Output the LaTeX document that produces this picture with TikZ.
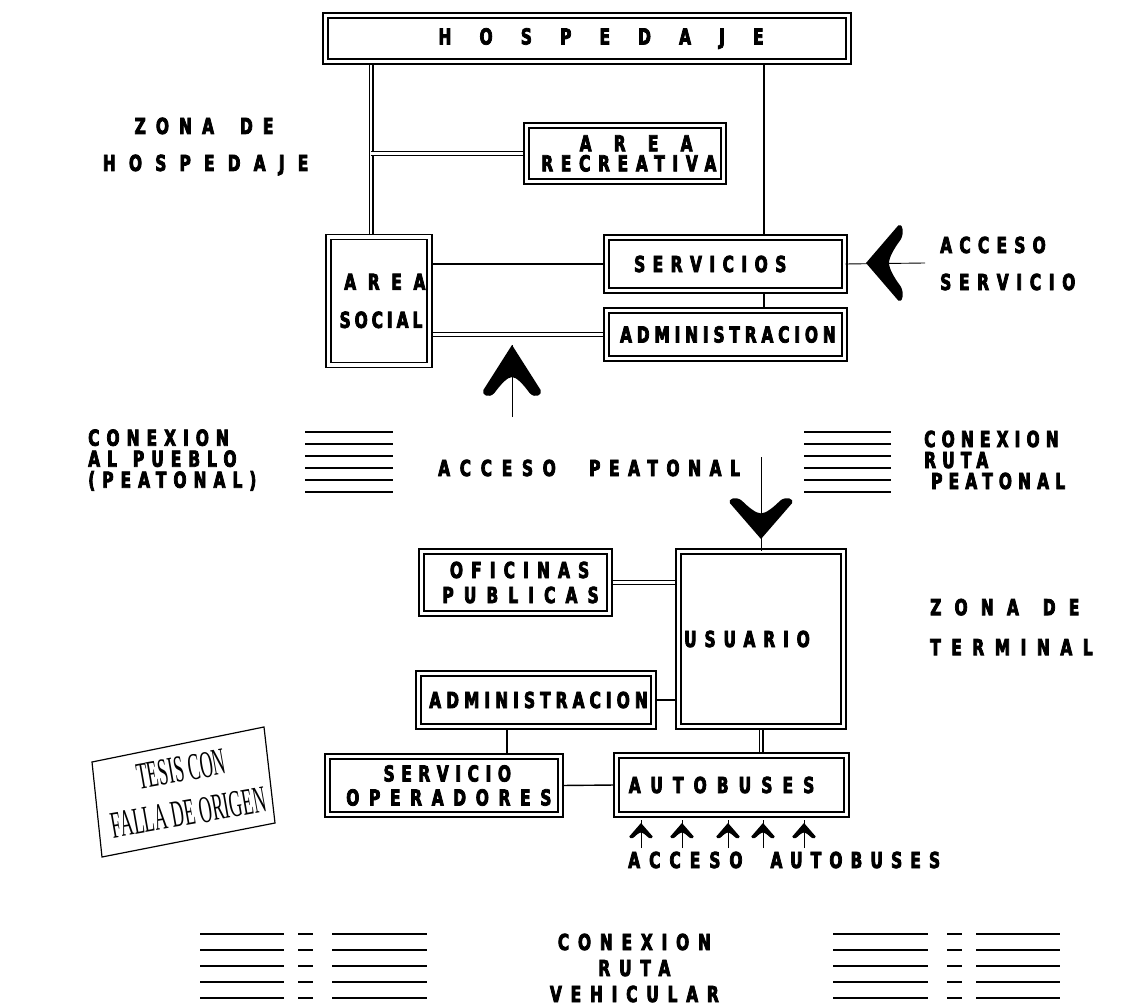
\documentclass[tikz,border=0pt]{standalone}
\usepackage{fontspec}
\newfontfamily\plano{DejaVu Sans Bold}[FakeStretch=0.7,FakeBold=3.5]
\newfontfamily\sello{Liberation Serif}
\usetikzlibrary{calc,backgrounds}
\newcommand\ls[2]{{\addfontfeature{LetterSpace=#1}#2\kern-\dimexpr#1em/100\relax}}

\begin{document}
\begin{tikzpicture}[
  x=1pt, y=-1pt,
  caja/.style={
    draw, double, double distance=3.6pt, line width=1.5pt,
    fill=white, inner sep=0pt, align=center,
    font=\plano\fontsize{22}{#1}\selectfont
  },
  caja/.default=24,
  rotulo/.style={
    inner sep=0pt, align=center,
    font=\plano\fontsize{22}{#1}\selectfont
  },
  rotulo/.default=24,
  sellotxt/.style={
    inner sep=0pt, align=center, font=\sello\fontsize{38}{44}\selectfont,
    rotate=10, xscale=0.47
  },
  enlace/.style={line width=1.4pt},
  enlaced/.style={double, double distance=2.6pt, line width=1.2pt},
  raya/.style={line width=1.4pt},
  flecha/.style={line width=0.9pt},
  wing/.pic={
    \fill (0,0) -- (-26,45) .. controls (-28,50) and (-21,54) .. (-16,48)
      .. controls (-10,39) and (-4,32) .. (0,32)
      .. controls (4,32) and (10,39) .. (16,48)
      .. controls (21,54) and (28,50) .. (26,45) -- cycle;
  }
]
\useasboundingbox (0,0) rectangle (1122,1008);

% Zona de hospedaje
\node[caja, minimum width=523, minimum height=46] (hosp) at (587,38.5) {\ls{128}{HOSPEDAJE}};
\node[caja=20, minimum width=197, minimum height=56] (recre) at (625,153.5) {\ls{101}{AREA}\\\ls{35}{RECREATIVA}};
\node[caja=38, minimum width=101, minimum height=128] (social) at (379,301) {\ls{53}{AREA}\\\ls{18}{SOCIAL}};
\node[caja, minimum width=238, minimum height=53] (serv) at (725.5,264) {\ls{34}{SERVICIOS}\hspace*{38pt}};
\node[caja, minimum width=238, minimum height=48] (admsup) at (725.5,334.5) {\ls{22}{ADMINISTRACION}};

% Zona de terminal
\node[caja=25, minimum width=188, minimum height=62] (ofic) at (515.5,582.5) {\ls{37}{OFICINAS}\\\ls{46}{PUBLICAS}};
\node[caja, minimum width=165, minimum height=175] (usu) at (761,639) {\raisebox{-8pt}{\ls{36}{USUARIO}}\hspace*{36pt}};
\node[caja, minimum width=235, minimum height=53] (admlow) at (536,700) {\ls{23}{ADMINISTRACION}};
\node[caja=24, minimum width=233, minimum height=58] (servop) at (444,785.5) {\ls{30}{SERVICIO}\\\ls{44}{OPERADORES}};
\node[caja, minimum width=230, minimum height=59] (autob) at (731.5,785) {\ls{46}{AUTOBUSES}\hspace*{30pt}};

% Rotulos
\node[rotulo=37] (zhosp) at (199,146.5) {\ls{46}{ZONA\hspace{26pt}DE}\\\ls{60}{HOSPEDAJE}};
\node[rotulo=37, align=left, anchor=west] (accserv) at (940,263.5) {\ls{33}{ACCESO}\\\ls{35}{SERVICIO}};
\node[rotulo=21, align=left, anchor=west] (conpueblo) at (88,460) {\ls{32}{CONEXION}\\\ls{32}{AL\hspace{16pt}PUEBLO}\\\ls{32}{(PEATONAL)}};
\node[rotulo, anchor=west] (accpeat) at (438,468) {\ls{44}{ACCESO}\hspace{43pt}\ls{39}{PEATONAL}};
\node[rotulo=21, align=left, anchor=west] (conruta) at (924,460) {\ls{28}{CONEXION}\\\ls{28}{RUTA}\\\hspace*{7pt}\ls{28}{PEATONAL}};
\node[rotulo=40, align=left, anchor=west] (zterm) at (930,627) {\ls{60}{ZONA\hspace{24pt}DE}\\\ls{48}{TERMINAL}};
\node[rotulo, anchor=west] (accbus) at (628,860) {\ls{41}{ACCESO}\hspace{37pt}\ls{37}{AUTOBUSES}};
\node[rotulo=26] (conveh) at (630,968) {\ls{40}{CONEXION}\\\ls{40}{RUTA}\\\ls{40}{VEHICULAR}};

% Sello
\draw[line width=1.2pt] (92,762) -- (264,727) -- (275,823) -- (102,857) -- cycle;
\node[sellotxt] (sello) at (185,791) {TESIS CON\\FALLA DE ORIGEN};

% Conexiones (rayado)
\foreach \yy in {432,444,...,492} {
  \draw[raya] (305,\yy) -- (393,\yy);
  \draw[raya] (804,\yy) -- (891,\yy);
}
\foreach \yy in {934,950,...,998} {
  \draw[raya] (200,\yy) -- (284,\yy) (298,\yy) -- (313,\yy) (332,\yy) -- (427,\yy);
  \draw[raya] (833,\yy) -- (928,\yy) (947,\yy) -- (962,\yy) (976,\yy) -- (1060,\yy);
}

% Enlaces
\coordinate (ejeizq) at ([xshift=-8pt]social.north);
\coordinate (ejeder) at ([xshift=38.5pt]serv.north);
\coordinate (ejebaj) at ([xshift=38.5pt]serv.south);
\coordinate (ejeop) at ([xshift=63pt]servop.north);
\begin{scope}[on background layer]
\draw[enlaced] (ejeizq) -- (ejeizq |- hosp.south);
\draw[enlace] (ejeder) -- (ejeder |- hosp.south);
\draw[enlaced] (ejeizq |- recre.west) -- (recre.west);
\draw[enlace] (serv.west -| social.east) -- (serv.west);
\draw[enlaced] (admsup.west -| social.east) -- (admsup.west);
\draw[enlace] (ejebaj) -- (ejebaj |- admsup.north);
\draw[enlaced] (ofic.east) -- (ofic.east -| usu.west);
\draw[enlace] (admlow.east) -- (admlow.east -| usu.west);
\draw[enlace] (ejeop) -- (ejeop |- admlow.south);
\draw[enlaced] (usu.south) -- (usu.south |- autob.north);
\draw[enlace] (servop.east) -- (autob.west);
\end{scope}

% Accesos
\coordinate (servext) at (925,263);
\draw[flecha] (serv.east) -- (servext);
\pic[rotate=90, xscale=1.45, yscale=0.72] at (866,263) {wing};

\coordinate (peatbajo) at (512,417);
\coordinate (peatpunta) at (512,345);
\draw[flecha] (peatbajo) -- (peatpunta);
\pic[xscale=1.1] at (peatpunta) {wing};

\coordinate (peatalto) at (761,457);
\draw[flecha] (peatalto) -- (usu.north);
\pic[rotate=180, xscale=1.2, yscale=0.8] at (761,539) {wing};

\foreach \xx [count=\i] in {641,682,728,763,804} {
  \coordinate (bus\i) at (\xx,848);
  \draw[flecha, shorten >=5pt] (bus\i) -- (bus\i |- autob.south);
  \pic[xscale=0.45, yscale=0.3] at (\xx,823) {wing};
}

\end{tikzpicture}
\end{document}
